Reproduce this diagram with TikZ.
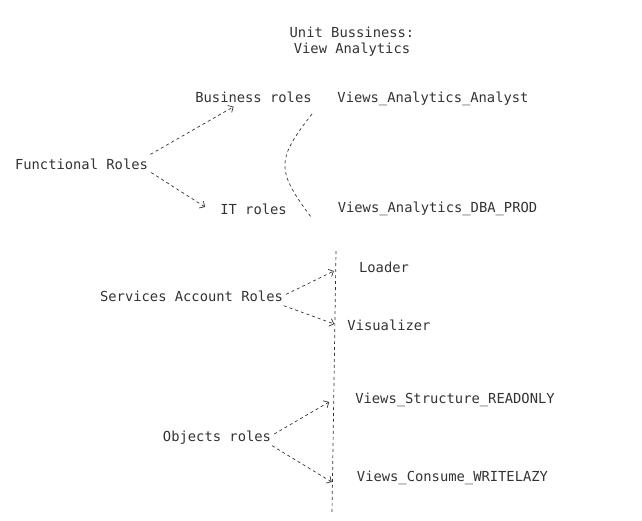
\documentclass[tikz,border=0pt]{standalone}
\usepackage{fontspec}
\usepackage{xcolor}
\usepackage{tikz}
\usetikzlibrary{arrows.meta}
\setmonofont{DejaVu Sans Mono}
\definecolor{inkgrey}{HTML}{333333}

\begin{document}
\begin{tikzpicture}[x=1pt, y=-1pt,
        heading/.style={text=inkgrey, font=\ttfamily\fontsize{13.8}{16}\selectfont, inner sep=3pt},
        label/.style={heading, text height=12pt, text depth=1pt},
        guide/.style={draw=inkgrey, line width=0.7pt, dash pattern=on 3pt off 3pt},
        flow/.style={guide, -{Straight Barb[length=4pt, width=8pt]}}]
                \useasboundingbox (0, 0) rectangle (642, 520);

                \node[heading, align=center] (title) at (352, 41.5) {Unit Bussiness:\\View Analytics};

                \node[label] (business) at (253.5, 97) {Business roles};
                \node[label] (analyst) at (433, 97) {Views\_Analytics\_Analyst};
                \node[label] (functional) at (81.5, 164) {Functional Roles};
                \node[label] (itroles) at (253.5, 209) {IT roles};
                \node[label] (dbaprod) at (437.5, 207) {Views\_Analytics\_DBA\_PROD};

                \node[label] (loader) at (384, 267) {Loader};
                \node[label] (services) at (191.5, 296) {Services Account Roles};
                \node[label] (visualizer) at (389, 325) {Visualizer};

                \node[label] (readonly) at (455, 398) {Views\_Structure\_READONLY};
                \node[label] (objects) at (217, 436) {Objects roles};
                \node[label] (writelazy) at (452.5, 476) {Views\_Consume\_WRITELAZY};

                \coordinate (curvetop) at (312, 114);
                \coordinate (curvebot) at (311, 217);
                \coordinate (axistop) at (336, 251);
                \coordinate (axisbot) at (332, 512);

                \draw[guide] (curvetop) .. controls (276, 160) and (276, 170) .. (curvebot);
                \draw[guide] (axistop) -- (axisbot);

                \draw[flow] (functional.8) -- (business.206);
                \draw[flow] (functional.-7) -- ([xshift=-12pt, yshift=2pt]itroles.west);

                \draw[flow] (services.1) -- ([xshift=-22pt, yshift=-4pt]loader.west);
                \draw[flow] (services.-6) -- ([xshift=-10pt, yshift=1pt]visualizer.west);

                \draw[flow] (objects.2) -- ([xshift=-23pt, yshift=-4pt]readonly.west);
                \draw[flow] (objects.-10) -- ([xshift=-22pt, yshift=-6pt]writelazy.west);
            \end{tikzpicture}
\end{document}
